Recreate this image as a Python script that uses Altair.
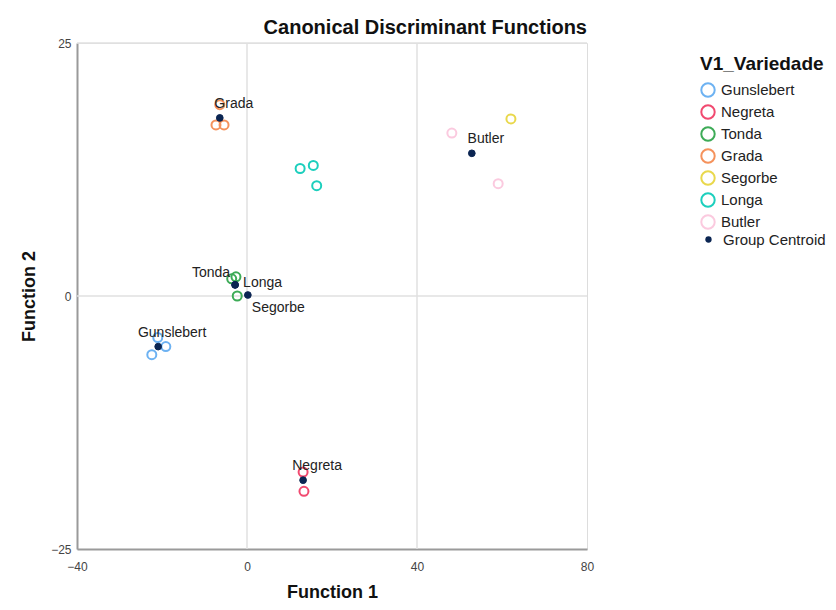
import altair as alt
import pandas as pd

# ---- data ----
groups = ["Gunslebert", "Negreta", "Tonda", "Grada", "Segorbe", "Longa", "Butler"]
group_colors = ["#6db2f2", "#f14a70", "#3dab57", "#f5925c", "#e9d84c", "#1ccfbd", "#fbcadf"]
centroid_name = "Group Centroid"
centroid_color = "#0b2552"

case_group = (["Gunslebert"] * 3 + ["Negreta"] * 2 + ["Tonda"] * 3 + ["Grada"] * 3
              + ["Segorbe"] + ["Longa"] * 3 + ["Butler"] * 2)
case_x = [-21.0, -19.1, -22.4, 13.2, 13.4, -3.6, -2.6, -2.3, -6.4, -7.3, -5.4,
          62.1, 12.5, 15.6, 16.4, 48.2, 59.1]
case_y = [-4.1, -5.0, -5.8, -17.4, -19.3, 1.7, 1.9, 0.0, 18.9, 16.9, 16.9,
          17.5, 12.6, 12.9, 10.9, 16.1, 11.1]

centroid_group = ["Gunslebert", "Negreta", "Tonda", "Grada", "Segorbe", "Longa", "Butler"]
centroid_x = [-20.9, 13.2, -2.8, -6.4, 0.2, -2.8, 52.9]
centroid_y = [-5.0, -18.2, 1.1, 17.6, 0.1, 1.1, 14.1]

x_ticks = [-40, 0, 40, 80]
y_ticks = [-25, 0, 25]
x_grid = [0, 40]
y_grid = [0, 25]

# ---- tables ----
cases = pd.DataFrame({"x": case_x, "y": case_y, "group": case_group})
cents = pd.DataFrame({"x": centroid_x, "y": centroid_y,
                      "kind": [centroid_name] * len(centroid_x), "label": centroid_group})

FONT = "Liberation Sans"
xs = alt.Scale(domain=[-40, 80], nice=False, zero=False)
ys = alt.Scale(domain=[-25, 25], nice=False, zero=False)

xaxis = alt.Axis(values=x_ticks, grid=False, ticks=False, domainColor="#9a9a9a",
                 domainWidth=2, labelFlush=False, labelFontSize=12, labelColor="#444",
                 labelPadding=12, labelFont=FONT, titleFont=FONT, titleFontSize=18,
                 titleFontWeight="bold", titleColor="#111", titlePadding=11)
yaxis = alt.Axis(values=y_ticks, grid=False, ticks=False, domainColor="#9a9a9a",
                 domainWidth=2, labelFlush=False, labelFontSize=12, labelColor="#444",
                 labelPadding=6, labelFont=FONT, titleFont=FONT, titleFontSize=18,
                 titleFontWeight="bold", titleColor="#111", titlePadding=12)

X = lambda f: alt.X(f, scale=xs, title="Function 1", axis=xaxis)
Y = lambda f: alt.Y(f, scale=ys, title="Function 2", axis=yaxis)

gridx = alt.Chart(pd.DataFrame({"v": x_grid})).mark_rule(color="#e0e0e0", strokeWidth=1.5).encode(
    x=X("v:Q"))
gridy = alt.Chart(pd.DataFrame({"v": y_grid})).mark_rule(color="#e0e0e0", strokeWidth=1.5).encode(
    y=Y("v:Q"))

LFS = 15
pts = alt.Chart(cases).mark_point(shape="circle", strokeWidth=2, opacity=1, size=81).encode(
    x=X("x:Q"),
    y=Y("y:Q"),
    stroke=alt.Stroke("group:N", scale=alt.Scale(domain=groups, range=group_colors),
                      title="V1_Variedade",
                      legend=alt.Legend(
                          orient="none", legendX=623, legendY=12, padding=0,
                          titleFont=FONT, titleFontSize=19, titleFontWeight="bold",
                          titleColor="#111", titlePadding=8,
                          labelFont=FONT, labelFontSize=LFS, labelColor="#222",
                          symbolType="circle", symbolSize=180, symbolStrokeWidth=2,
                          symbolFillColor="transparent",
                          rowPadding=0, labelOffset=5)),
)

cent = alt.Chart(cents)
cpts = cent.mark_point(filled=True, size=45, color=centroid_color, opacity=1,
                       stroke=centroid_color, strokeWidth=1).encode(
    x=X("x:Q"),
    y=Y("y:Q"),
    shape=alt.Shape("kind:N", scale=alt.Scale(domain=[centroid_name], range=["circle"]),
                    title=None,
                    legend=alt.Legend(
                        orient="none", legendX=624, legendY=189, padding=0,
                        labelFont=FONT, labelFontSize=LFS, labelColor="#222",
                        symbolSize=40, symbolFillColor=centroid_color,
                        symbolStrokeColor=centroid_color, symbolStrokeWidth=1,
                        labelOffset=7)),
)

txt_kw = dict(font=FONT, fontSize=14, color="#222", baseline="middle")
enc = dict(x=X("x:Q"), y=Y("y:Q"), text="label:N")
lab_above = cent.transform_filter(
    alt.FieldOneOfPredicate(field="label", oneOf=["Grada", "Gunslebert", "Negreta", "Butler"])
).mark_text(align="center", dx=14, dy=-14, **txt_kw).encode(**enc)
lab_left = cent.transform_filter(
    alt.FieldOneOfPredicate(field="label", oneOf=["Tonda"])
).mark_text(align="right", dx=-5, dy=-12, **txt_kw).encode(**enc)
lab_right = cent.transform_filter(
    alt.FieldOneOfPredicate(field="label", oneOf=["Longa"])
).mark_text(align="left", dx=8, dy=-2, **txt_kw).encode(**enc)
lab_below = cent.transform_filter(
    alt.FieldOneOfPredicate(field="label", oneOf=["Segorbe"])
).mark_text(align="left", dx=4, dy=13, **txt_kw).encode(**enc)

chart = alt.layer(gridx, gridy, pts, cpts, lab_above, lab_left, lab_right, lab_below).properties(
    width=510, height=506,
    padding={"left": 69, "top": 35, "right": 241, "bottom": 53},
    autosize=alt.AutoSizeParams(type="none"),
    title=alt.TitleParams("Canonical Discriminant Functions", anchor="end", frame="group",
                          font=FONT, fontSize=20, fontWeight="bold", color="#111",
                          baseline="alphabetic", offset=8, dy=25),
).configure_view(strokeWidth=0).configure(background="white")

chart.save("out.html", embed_options={"renderer": "svg", "actions": False})
